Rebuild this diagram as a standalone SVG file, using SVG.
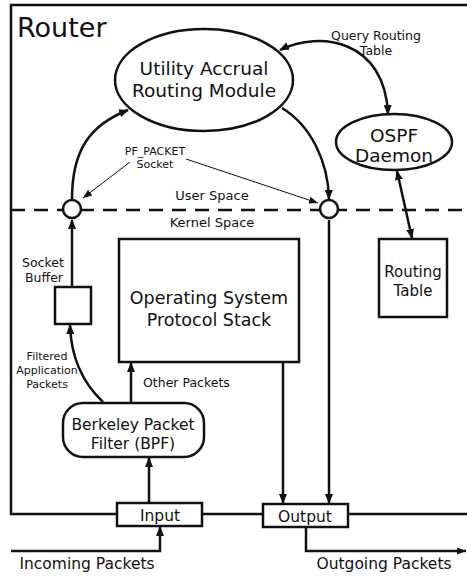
<svg xmlns="http://www.w3.org/2000/svg" width="467" height="576" viewBox="0 0 467 576">
<defs>
<style>
text{font-family:"DejaVu Sans","Liberation Sans",sans-serif;fill:#111;text-anchor:middle}
.b{fill:#fff;stroke:#111;stroke-width:2.5}
.c{fill:none;stroke:#111;stroke-width:2.5}
.t{fill:none;stroke:#111;stroke-width:1}
</style>
<marker id="a" markerUnits="userSpaceOnUse" markerWidth="10" markerHeight="8" refX="9" refY="4" orient="auto-start-reverse"><path d="M0,0 L10,4 L0,8 z" fill="#111"/></marker>
<marker id="s" markerUnits="userSpaceOnUse" markerWidth="9" markerHeight="7" refX="9" refY="3.5" orient="auto"><path d="M0,0 L9,3.5 L0,7 z" fill="#111"/></marker>
</defs>
<g id="router">
<path class="c" d="M467,5 H11 V514 H117 M202,514 H263 M348,514 H467"/>
<text x="17" y="37" style="font-size:27px;text-anchor:start">Router</text>
</g>
<g id="space-divider">
<line x1="11" y1="210" x2="467" y2="210" stroke="#111" stroke-width="2.5" stroke-dasharray="14,9"/>
<text x="212" y="200" style="font-size:13px">User Space</text>
<text x="212" y="227" style="font-size:13px">Kernel Space</text>
</g>
<g id="connectors">
<path class="c" d="M280,50 C320,30 385,40 388,114" marker-start="url(#a)" marker-end="url(#a)"/>
<path class="c" d="M72,199 C72,150 90,125 128,110" marker-end="url(#a)"/>
<path class="c" d="M282,108 C310,125 328,160 329,199" marker-end="url(#a)"/>
<path class="t" d="M130,162 L83,198" marker-end="url(#s)"/>
<path class="t" d="M186,159 L318,203" marker-end="url(#s)"/>
<path class="c" d="M397,171 L412,238" marker-start="url(#a)" marker-end="url(#a)"/>
<path class="c" d="M72,287 V220" marker-end="url(#a)"/>
<path class="c" d="M103,402 C85,385 71,360 70,325" marker-end="url(#a)"/>
<path class="c" d="M131,402 V363" marker-end="url(#a)"/>
<path class="c" d="M149,503 V458" marker-end="url(#a)"/>
<path class="c" d="M11,551 H160 V527" marker-end="url(#a)"/>
<path class="c" d="M283,362 V503" marker-end="url(#a)"/>
<path class="c" d="M329,220 V503" marker-end="url(#a)"/>
<path class="c" d="M306,527 V551 H466" marker-end="url(#s)"/>
<text x="376" y="40" style="font-size:12.5px">Query Routing</text>
<text x="376" y="55" style="font-size:12.5px">Table</text>
<text x="155" y="155" style="font-size:11px">PF_PACKET</text>
<text x="155" y="168" style="font-size:11px">Socket</text>
<text x="47" y="360" style="font-size:11px">Filtered</text>
<text x="47" y="374" style="font-size:11px">Application</text>
<text x="47" y="388" style="font-size:11px">Packets</text>
<text x="143" y="387" style="font-size:12.5px;text-anchor:start">Other Packets</text>
<text x="87" y="569" style="font-size:15.5px">Incoming Packets</text>
<text x="384" y="569" style="font-size:15.5px">Outgoing Packets</text>
</g>
<g id="utility">
<ellipse class="b" cx="204" cy="80" rx="89" ry="51"/>
<text x="204" y="75" style="font-size:18.5px">Utility Accrual</text>
<text x="204" y="97" style="font-size:18.5px">Routing Module</text>
</g>
<g id="ospf">
<ellipse class="b" cx="394" cy="142" rx="58" ry="28"/>
<text x="394" y="142" style="font-size:18.5px">OSPF</text>
<text x="394" y="162" style="font-size:18.5px">Daemon</text>
</g>
<g id="socket-left"><circle class="b" cx="72" cy="209" r="9"/></g>
<g id="socket-right"><circle class="b" cx="329" cy="209" r="9"/></g>
<g id="routing-table">
<rect class="b" x="379" y="239" width="68" height="78"/>
<text x="413" y="277" style="font-size:15px">Routing</text>
<text x="413" y="296" style="font-size:15px">Table</text>
</g>
<g id="os-stack">
<rect class="b" x="119" y="239" width="180" height="123"/>
<text x="209" y="304" style="font-size:17.5px">Operating System</text>
<text x="209" y="326" style="font-size:17.5px">Protocol Stack</text>
</g>
<g id="socket-buffer">
<rect class="b" x="55" y="287" width="36" height="37"/>
<text x="43" y="267" style="font-size:12.5px">Socket</text>
<text x="44" y="282" style="font-size:12.5px">Buffer</text>
</g>
<g id="bpf">
<rect class="b" x="63" y="403" width="141" height="54" rx="20" ry="20"/>
<text x="133" y="430" style="font-size:15.5px">Berkeley Packet</text>
<text x="133" y="449" style="font-size:15.5px">Filter (BPF)</text>
</g>
<g id="input">
<rect class="b" x="117" y="503" width="85" height="23"/>
<text x="160" y="521" style="font-size:15.5px">Input</text>
</g>
<g id="output">
<rect class="b" x="263" y="504" width="85" height="23"/>
<text x="305" y="522" style="font-size:15.5px">Output</text>
</g>
</svg>
